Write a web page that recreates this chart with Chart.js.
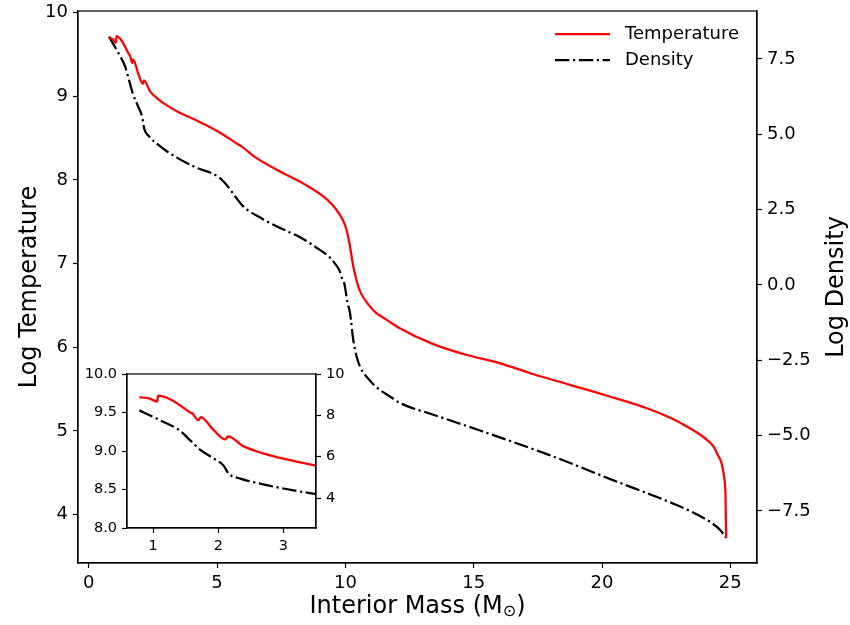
<!DOCTYPE html>
<html>
<head>
<meta charset="utf-8">
<script src="https://cdn.jsdelivr.net/npm/chart.js@4.4.1/dist/chart.umd.min.js"></script>
<style>
  body { margin: 0; background: #fff; }
  #wrap { position: relative; width: 850px; height: 625px; }
  #mainChart { position: absolute; left: 0; top: 0; }
  #insetChart { position: absolute; left: 80px; top: 360px; }
</style>
</head>
<body>
<div id="wrap">
  <canvas id="mainChart" width="850" height="625"></canvas>
  <canvas id="insetChart" width="270" height="200"></canvas>
</div>
<script>
// temperature profile (interior mass in Msun, log T)
const tempMass = [0.79, 0.95, 1.06, 1.08, 1.27, 1.42, 1.57, 1.60, 1.70, 1.73, 1.93, 2.11, 2.15, 2.39, 2.69, 3.00, 3.50,
  4.00, 4.60, 5.20, 5.80, 6.00, 6.50, 7.40, 8.40, 9.20, 9.50, 9.75, 9.90, 10.03, 10.16, 10.30, 10.45, 10.60, 10.90,
  11.20, 11.60, 12.10, 13.40, 14.70, 16.00, 17.30, 18.75, 20.20, 21.75, 22.70, 23.20, 23.70, 24.10, 24.35, 24.50,
  24.67, 24.77, 24.81, 24.84];
const tempLog = [9.70, 9.68, 9.64, 9.72, 9.67, 9.59, 9.50, 9.49, 9.40, 9.44, 9.27, 9.15, 9.19, 9.06, 8.97, 8.90, 8.81,
  8.74, 8.65, 8.55, 8.43, 8.39, 8.27, 8.11, 7.95, 7.79, 7.70, 7.60, 7.52, 7.42, 7.24, 6.98, 6.78, 6.65, 6.51,
  6.41, 6.33, 6.23, 6.04, 5.91, 5.81, 5.68, 5.55, 5.42, 5.27, 5.15, 5.07, 4.98, 4.89, 4.81, 4.72,
  4.60, 4.42, 4.25, 3.72];

// density profile (interior mass in Msun, log rho)
const densMass = [0.79, 1.11, 1.42, 1.57, 1.72, 1.93, 2.08, 2.16, 2.34, 2.69, 3.00, 3.50, 4.17, 5.08, 5.34, 5.73,
  5.99, 6.77, 7.81, 8.20, 8.85, 9.38, 9.60, 9.77, 9.90, 9.96, 10.09, 10.16, 10.22, 10.29, 10.48, 10.94, 11.85,
  12.10, 13.40, 15.30, 17.80, 20.40, 23.00, 23.70, 24.22, 24.60, 24.84];
const densLog = [8.24, 7.76, 7.24, 6.79, 6.34, 5.91, 5.58, 5.18, 4.94, 4.66, 4.46, 4.19, 3.90, 3.57, 3.35, 2.91,
  2.63, 2.19, 1.75, 1.60, 1.25, 0.92, 0.70, 0.48, 0.15, 0.04, -0.62, -0.84, -1.18, -1.73, -2.50, -3.16, -3.77,
  -3.91, -4.30, -4.85, -5.60, -6.47, -7.34, -7.62, -7.87, -8.13, -8.40];

const massTicks = [0, 5, 10, 15, 20, 25];
const tempTicks = [4, 5, 6, 7, 8, 9, 10];
const densTicks = [-7.5, -5, -2.5, 0, 2.5, 5, 7.5];
const insetMassTicks = [1, 2, 3];
const insetTempTicks = [8, 8.5, 9, 9.5, 10];
const insetDensTicks = [4, 6, 8, 10];

const FONT = "'DejaVu Sans', sans-serif";
const DASHDOT = [14.4, 3.6, 2.25, 3.6];
const minus = s => s.replace('-', '\u2212');

const tempPoints = tempMass.map((m, i) => ({ x: m, y: tempLog[i] }));
const densPoints = densMass.map((m, i) => ({ x: m, y: densLog[i] }));

function makeDatasets() {
  return [
    { label: 'Temperature', data: tempPoints, yAxisID: 'y', borderColor: '#ff0000', borderWidth: 2.25,
      pointRadius: 0, cubicInterpolationMode: 'monotone', fill: false },
    { label: 'Density', data: densPoints, yAxisID: 'y1', borderColor: '#000000', borderWidth: 2.25,
      borderDash: DASHDOT, pointRadius: 0, cubicInterpolationMode: 'monotone', fill: false }
  ];
}

// fixed-size axis; padding reset so the plot box lands where the layout puts it
function axis(pos, min, max, ticks, fmt, size, thick) {
  return {
    type: 'linear', position: pos, min: min, max: max,
    afterBuildTicks: s => { s.ticks = ticks.map(v => ({ value: v })); },
    afterFit: s => {
      if (pos === 'bottom') s.height = thick; else s.width = thick;
      s.paddingTop = 0; s.paddingBottom = 0; s.paddingLeft = 0; s.paddingRight = 0;
    },
    ticks: { color: '#000', font: { family: FONT, size: size }, padding: 5, maxRotation: 0,
      autoSkip: false, callback: fmt },
    grid: { display: true, drawOnChartArea: false, drawTicks: true, tickLength: 5, tickWidth: 1.2, color: '#000' },
    border: { display: true, color: '#000', width: 1.2 }
  };
}

// box around the plot area
const frame = {
  id: 'frame',
  afterDatasetsDraw(chart) {
    const { ctx, chartArea: a } = chart;
    ctx.save();
    ctx.strokeStyle = '#000';
    ctx.lineWidth = 1.2;
    ctx.strokeRect(a.left, a.top, a.right - a.left, a.bottom - a.top);
    ctx.restore();
  }
};

// axis titles + legend for the main plot
const mainDecor = {
  id: 'mainDecor',
  afterDraw(chart) {
    const { ctx, chartArea: a } = chart;
    ctx.save();
    ctx.fillStyle = '#000';
    ctx.textBaseline = 'middle';

    // x title with subscript sun
    const big = '24px ' + FONT, small = '16px ' + FONT;
    const p1 = 'Interior Mass (M', p2 = '\u2299', p3 = ')';
    ctx.font = big; const w1 = ctx.measureText(p1).width, w3 = ctx.measureText(p3).width;
    ctx.font = small; const w2 = ctx.measureText(p2).width;
    let x = (a.left + a.right) / 2 - (w1 + w2 + w3) / 2;
    const y = 607;
    ctx.textAlign = 'left';
    ctx.font = big; ctx.fillText(p1, x, y); x += w1;
    ctx.font = small; ctx.fillText(p2, x, y + 5); x += w2;
    ctx.font = big; ctx.fillText(p3, x, y);

    // y titles
    ctx.textAlign = 'center';
    ctx.font = big;
    const cy = (a.top + a.bottom) / 2;
    ctx.save(); ctx.translate(30, cy); ctx.rotate(-Math.PI / 2); ctx.fillText('Log Temperature', 0, 0); ctx.restore();
    ctx.save(); ctx.translate(837, cy); ctx.rotate(-Math.PI / 2); ctx.fillText('Log Density', 0, 0); ctx.restore();

    // legend
    const ds = chart.data.datasets;
    ctx.font = '18px ' + FONT;
    ctx.textAlign = 'left';
    ds.forEach((d, i) => {
      const ly = 34 + i * 26;
      ctx.beginPath();
      ctx.strokeStyle = d.borderColor;
      ctx.lineWidth = d.borderWidth;
      ctx.setLineDash(d.borderDash || []);
      ctx.moveTo(555, ly); ctx.lineTo(610, ly);
      ctx.stroke();
      ctx.setLineDash([]);
      ctx.fillText(d.label, 625, ly);
    });
    ctx.restore();
  }
};

new Chart(document.getElementById('mainChart'), {
  type: 'line',
  data: { datasets: makeDatasets() },
  options: {
    responsive: false, animation: false, devicePixelRatio: 1,
    layout: { padding: { top: 11, left: 0, right: 0, bottom: 0 } },
    plugins: { legend: { display: false }, tooltip: { enabled: false } },
    scales: {
      x: axis('bottom', -0.42, 26.04, massTicks, v => String(v), 18, 62),
      y: axis('left', 3.42, 10.02, tempTicks, v => String(v), 18, 78),
      y1: axis('right', -9.23, 9.09, densTicks, v => minus(v.toFixed(1)), 18, 93)
    }
  },
  plugins: [frame, mainDecor]
});

new Chart(document.getElementById('insetChart'), {
  type: 'line',
  data: { datasets: makeDatasets() },
  options: {
    responsive: false, animation: false, devicePixelRatio: 1,
    layout: { padding: { top: 14, left: 0, right: 0, bottom: 0 } },
    plugins: { legend: { display: false }, tooltip: { enabled: false } },
    scales: {
      x: axis('bottom', 0.6, 3.5, insetMassTicks, v => String(v), 14.5, 32),
      y: axis('left', 8, 10, insetTempTicks, v => v.toFixed(1), 14.5, 47),
      y1: axis('right', 2.55, 10, insetDensTicks, v => String(v), 14.5, 34)
    }
  },
  plugins: [frame]
});
</script>
</body>
</html>
